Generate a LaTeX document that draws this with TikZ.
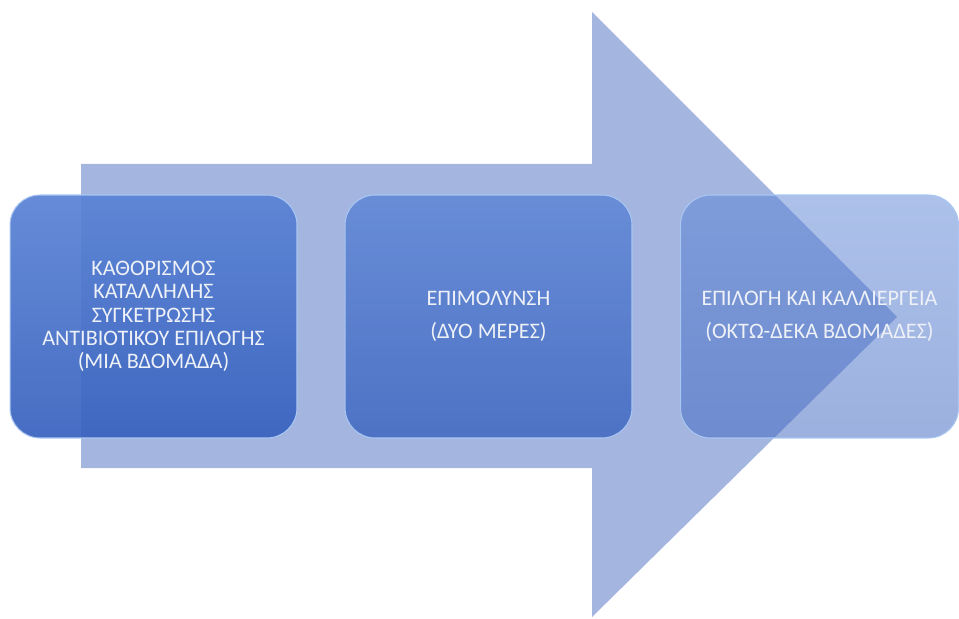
\documentclass[tikz,border=0pt]{standalone}
\usepackage{fontspec}
\setmainfont{Carlito}
\usepackage{xcolor}
\usetikzlibrary{positioning}

\definecolor{arrowblue}{HTML}{A4B6E0}
\definecolor{boxtop}{HTML}{5A83D5}
\definecolor{boxbot}{HTML}{3862BE}
\definecolor{rimblue}{HTML}{A9C6F2}
\definecolor{txtwhite}{HTML}{EEF1F7}

\begin{document}
\begin{tikzpicture}[x=0.02cm,y=-0.02cm,
    every node/.style={font=\fontsize{12.6}{13.2}\selectfont,text=txtwhite},
    stagebox/.style={rectangle,rounded corners=0.6cm,align=center,
                     minimum width=5.74cm,minimum height=4.86cm,
                     inner sep=2pt,draw=rimblue,line width=0.6pt,
                     top color=boxtop,bottom color=boxbot,text opacity=1},
  ]
  \useasboundingbox (0,0) rectangle (959,618);

  % --- big arrow behind the stages ---
  \fill[arrowblue] (81,164) -- (592,164) -- (592,12) -- (897,317)
                   -- (592,617) -- (592,468) -- (81,468) -- cycle;

  % --- stages ---
  \node[stagebox,fill opacity=0.93] (s1) at (153.5,316.5)
       {ΚΑΘΟΡΙΣΜΟΣ\\ΚΑΤΑΛΛΗΛΗΣ\\ΣΥΓΚΕΤΡΩΣΗΣ\\ΑΝΤΙΒΙΟΤΙΚΟΥ ΕΠΙΛΟΓΗΣ\\(ΜΙΑ ΒΔΟΜΑΔΑ)};
  \node[stagebox,fill opacity=0.8] (s2) at (488.5,316.5)
       {ΕΠΙΜΟΛΥΝΣΗ\\[0.2cm](ΔΥΟ ΜΕΡΕΣ)};
  \node[stagebox,fill opacity=0.5,minimum width=5.56cm] (s3) at (819.5,316.5)
       {ΕΠΙΛΟΓΗ ΚΑΙ ΚΑΛΛΙΕΡΓΕΙΑ\\[0.2cm](ΟΚΤΩ-ΔΕΚΑ ΒΔΟΜΑΔΕΣ)};
\end{tikzpicture}
\end{document}
